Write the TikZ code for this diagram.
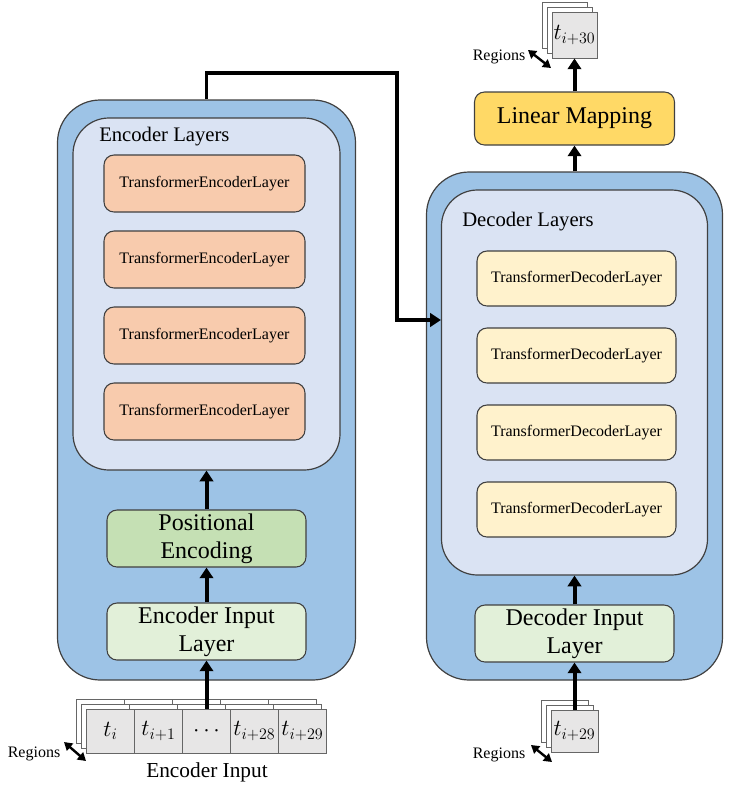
\documentclass[tikz,border=0pt]{standalone}
\usepackage{fontspec}
\setmainfont{Liberation Serif}
\usetikzlibrary{arrows.meta}

\definecolor{shellblue}{RGB}{157,195,230}
\definecolor{paleblue}{RGB}{218,227,243}
\definecolor{salmon}{RGB}{248,203,173}
\definecolor{cream}{RGB}{255,242,204}
\definecolor{sage}{RGB}{197,224,180}
\definecolor{palegreen}{RGB}{226,240,217}
\definecolor{gold}{RGB}{255,217,102}
\definecolor{tokgray}{RGB}{231,230,230}
\definecolor{edge}{RGB}{64,64,64}

\begin{document}
\begin{tikzpicture}[x=0.75pt,y=0.75pt,yscale=-1,xscale=1,
	shell/.style={draw=edge,line width=0.9pt,rounded corners=32pt,fill=shellblue,inner sep=0pt},
	stack/.style={draw=edge,line width=0.9pt,rounded corners=27pt,fill=paleblue,inner sep=0pt},
	layerbox/.style={draw=edge,line width=0.8pt,rounded corners=7.5pt,inner sep=0pt,align=center,
		minimum width=150.75pt,minimum height=42.75pt,font=\fontsize{12}{14}\selectfont},
	stepbox/.style={layerbox,font=\fontsize{18}{21}\selectfont},
	tok/.style={draw=edge!80,line width=0.7pt,fill=tokgray,inner sep=0pt,minimum width=36pt,minimum height=33pt,font=\fontsize{17}{19}\selectfont},
	backtok/.style={draw=edge!80,line width=0.7pt,fill=white},
	arr/.style={-{Triangle[width=10pt,length=8pt]},line width=3pt},
	twoway/.style={{Triangle[width=7pt,length=6pt]}-{Triangle[width=7pt,length=6pt]},line width=1.8pt},
	caption/.style={font=\fontsize{12}{14}\selectfont,inner sep=0pt}]
	\useasboundingbox (0,0) rectangle (751,800);
	
	%Shape: Encoder shell
	\node[shell,minimum width=223.5pt,minimum height=435pt] (encout) at (206.5,390) {};
	\node[stack,minimum width=200.25pt,minimum height=264pt] (enclay) at (206.5,294) {};
	% Text Node
	\node[anchor=west,inner sep=0pt,font=\fontsize{15.5}{18}\selectfont] (enctitle) at (99,137) {Encoder Layers};
	\foreach \y [count=\k] in {183.5,259.5,335.5,411.5}
		\node[layerbox,fill=salmon] (enc\k) at (204.5,\y) {TransformerEncoderLayer};
	\node[stepbox,fill=sage,minimum width=149.25pt] (posenc) at (206.5,538.5) {Positional\\Encoding};
	\node[stepbox,fill=palegreen,minimum width=149.25pt] (encin) at (206.5,631.5) {Encoder Input\\Layer};
	
	%Shape: Decoder shell
	\node[shell,minimum width=222pt,minimum height=381pt] (decout) at (574.5,426) {};
	\node[stack,minimum width=199.5pt,minimum height=288.75pt] (declay) at (574.5,382.5) {};
	% Text Node
	\node[anchor=west,inner sep=0pt,font=\fontsize{15.5}{18}\selectfont] (dectitle) at (462,222) {Decoder Layers};
	\foreach \y [count=\k] in {278.5,355.5,432.5,509.5}
		\node[layerbox,fill=cream,minimum width=149.25pt,minimum height=41.25pt] (dec\k) at (576.5,\y) {TransformerDecoderLayer};
	\node[stepbox,fill=palegreen,minimum width=149.25pt] (decin) at (574.5,633.5) {Decoder Input\\Layer};
	\node[stepbox,fill=gold,minimum width=150pt,minimum height=39.75pt] (linmap) at (574.5,118.5) {Linear Mapping};
	
	%Shape: encoder input tokens
	\foreach \d in {10,5}
		\foreach \k in {0,...,4}
			\draw[backtok] ({86.5+48*\k-\d},{709-\d}) rectangle ++(48,44);
	\foreach \lab [count=\k] in {t_i,t_{i+1},\cdots,t_{i+28},t_{i+29}}
		\node[tok] (tok\k) at ({62.5+48*\k},731) {$\lab$};
	\node[font=\fontsize{16}{18}\selectfont,inner sep=0pt] (enclabel) at (207,772) {Encoder Input};
	\node[caption] (encreg) at (34,754) {Regions};
	\coordinate (encregA) at (64,742);
	\coordinate (encregB) at (86,761);
	
	%Shape: decoder input token
	\foreach \d in {10,5}
		\draw[backtok] ({551-\d},{710-\d}) rectangle ++(47,42);
	\node[tok,minimum width=35.25pt,minimum height=31.5pt] (dectok) at (574.5,731) {$t_{i+29}$};
	\node[caption] (decreg) at (499,755) {Regions};
	\coordinate (decregA) at (531,745);
	\coordinate (decregB) at (552,762);
	
	%Shape: output token
	\foreach \d in {10,5}
		\draw[backtok] ({552-\d},{12-\d}) rectangle ++(45,46);
	\node[tok,minimum width=33.75pt,minimum height=34.5pt] (outtok) at (574.5,35) {$t_{i+30}$};
	\node[caption] (outreg) at (499,57) {Regions};
	\coordinate (outregA) at (528,50);
	\coordinate (outregB) at (551,68);
	
	%Straight Lines
	\draw[arr] (tok3.north) -- (encin.south);
	\draw[arr] (encin.north) -- (posenc.south);
	\draw[arr] (posenc.north) -- (enclay.south);
	\draw[arr] (dectok.north) -- (decin.south);
	\draw[arr] (decin.north) -- (declay.south);
	\draw[arr] (decout.north) -- (linmap.south);
	\draw[arr] (linmap.north) -- (outtok.south);
	\coordinate (bend) at (397,73);
	\coordinate (hop) at (397,320);
	\draw[arr,line width=2.6pt] (encout.north) |- (bend) -- (hop) -- (hop -| declay.west);
	\draw[twoway] (encregA) -- (encregB);
	\draw[twoway] (decregA) -- (decregB);
	\draw[twoway] (outregA) -- (outregB);
	
\end{tikzpicture}
\end{document}
